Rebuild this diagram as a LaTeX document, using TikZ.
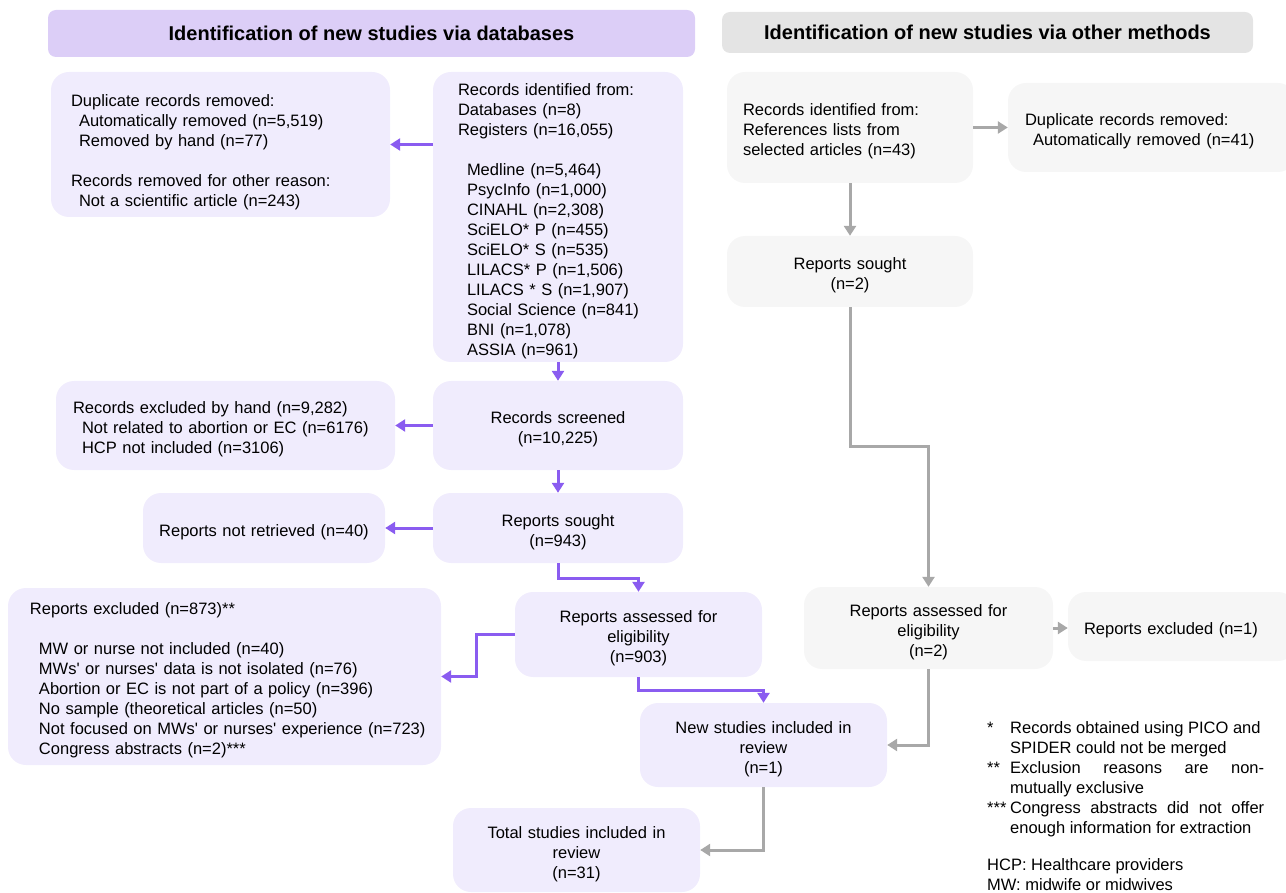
\documentclass[tikz,border=0pt]{standalone}
\usepackage{fontspec}
\setmainfont{Liberation Sans}
\usetikzlibrary{arrows.meta,calc}

\definecolor{hdrlav}{RGB}{220,206,247}
\definecolor{hdrgray}{RGB}{228,228,228}
\definecolor{boxlav}{RGB}{240,236,253}
\definecolor{boxgray}{RGB}{246,246,246}
\definecolor{arrpurple}{RGB}{138,92,240}
\definecolor{arrgray}{RGB}{168,168,168}

\tikzset{
  box/.style={
    fill=boxlav,
    rounded corners=18pt,
    inner sep=0pt,
    align=center,
    font=\fontsize{16.5}{20}\selectfont,
    tdown=19.5
  },
  graybox/.style={box, fill=boxgray},
  hdr/.style={
    fill=hdrlav,
    rounded corners=8pt,
    inner sep=0pt,
    font=\fontsize{20}{24}\selectfont\bfseries
  },
  tdown/.style={execute at begin node={\rule{0pt}{#1pt}}},
  wh/.style 2 args={minimum width=#1pt, minimum height=#2pt, text width=#1pt},
  lft/.style 2 args={align=left, inner xsep=#1pt, text width=#2pt},
  parrow/.style={
    draw=arrpurple,
    line width=3pt,
    -{Triangle[length=10pt,width=12pt]}
  },
  garrow/.style={parrow, draw=arrgray},
  notes/.style={inner sep=0pt, font=\fontsize{16.5}{20}\selectfont}
}

\begin{document}
\begin{tikzpicture}[x=1pt,y=-1pt]

    % frame
    \useasboundingbox (0,0) rectangle (1286,893);

    % headers
    \node[hdr, minimum width=647pt, minimum height=47pt] (hdrdb) at (371.5,33.5)
        {Identification of new studies via databases};
    \node[hdr, fill=hdrgray, minimum width=531pt, minimum height=41pt] (hdrother) at (987.5,32.5)
        {Identification of new studies via other methods};

    % databases column
    \node[box, wh={250}{290}, lft={25}{200}] (iddb) at (558,217)
        {Records identified from:\\
         Databases (n=8)\\
         Registers (n=16,055)\\[20pt]
         \hspace*{9pt}Medline (n=5,464)\\
         \hspace*{9pt}PsycInfo (n=1,000)\\
         \hspace*{9pt}CINAHL (n=2,308)\\
         \hspace*{9pt}SciELO* P (n=455)\\
         \hspace*{9pt}SciELO* S (n=535)\\
         \hspace*{9pt}LILACS* P (n=1,506)\\
         \hspace*{9pt}LILACS * S (n=1,907)\\
         \hspace*{9pt}Social Science (n=841)\\
         \hspace*{9pt}BNI (n=1,078)\\
         \hspace*{9pt}ASSIA (n=961)};
    \node[box, tdown=28, wh={339}{145}, lft={20}{299}] (dupdb) at (220.5,144.5)
        {Duplicate records removed:\\
         \hspace*{8pt}Automatically removed (n=5,519)\\
         \hspace*{8pt}Removed by hand (n=77)\\[20pt]
         Records removed for other reason:\\
         \hspace*{8pt}Not a scientific article (n=243)};
    \node[box, wh={250}{89}] (screen) at (558,425.5)
        {Records screened\\(n=10,225)};
    \node[box, wh={339}{89}, lft={17}{305}] (exclhand) at (225.5,425.5)
        {Records excluded by hand (n=9,282)\\
         \hspace*{9pt}Not related to abortion or EC (n=6176)\\
         \hspace*{9pt}HCP not included (n=3106)};
    \node[box, wh={250}{70}] (soughtdb) at (558,528)
        {Reports sought\\(n=943)};
    \node[box, wh={242}{70}] (notret) at (264,528)
        {Reports not retrieved (n=40)};
    \node[box, wh={247}{85}] (assessdb) at (638.5,634.5)
        {Reports assessed for\\eligibility\\(n=903)};
    \node[box, wh={433}{177}, lft={22}{389}] (excldb) at (224.5,676.5)
        {Reports excluded (n=873)**\\[20pt]
         \hspace*{9pt}MW or nurse not included (n=40)\\
         \hspace*{9pt}MWs\textquotesingle{} or nurses\textquotesingle{} data is not isolated (n=76)\\
         \hspace*{9pt}Abortion or EC is not part of a policy (n=396)\\
         \hspace*{9pt}No sample (theoretical articles (n=50)\\
         \hspace*{9pt}\mbox{Not focused on MWs\textquotesingle{} or nurses\textquotesingle{} experience (n=723)}\\
         \hspace*{9pt}Congress abstracts (n=2)***};
    \node[box, wh={247}{84}] (newinc) at (763.5,745)
        {New studies included in\\review\\(n=1)};
    \node[box, wh={247}{84}] (total) at (576.5,850)
        {Total studies included in\\review\\(n=31)};

    % other methods column
    \node[graybox, wh={246}{111}, lft={16}{214}] (idother) at (850,127.5)
        {Records identified from:\\
         References lists from\\
         selected articles (n=43)};
    \node[graybox, wh={288}{89}, lft={17}{254}] (dupother) at (1152,127.5)
        {Duplicate records removed:\\
         \hspace*{8pt}Automatically removed (n=41)};
    \node[graybox, wh={246}{71}] (soughtother) at (850,271.5)
        {Reports sought\\(n=2)};
    \node[graybox, wh={249}{82}] (assessother) at (928.5,628)
        {Reports assessed for\\eligibility\\(n=2)};
    \node[graybox, wh={228}{69}, lft={16}{196}] (exclother) at (1182,626.5)
        {Reports excluded (n=1)};

    % purple arrows
    \draw[parrow] (iddb.west |- dupdb.east) -- (dupdb.east);
    \draw[parrow] (iddb.south) -- (screen.north);
    \draw[parrow] (screen.west) -- (exclhand.east);
    \draw[parrow] (screen.south) -- (soughtdb.north);
    \draw[parrow] (soughtdb.west) -- (notret.east);
    \draw[parrow] (soughtdb.south) -- ++(0,15) -| (assessdb.north);
    \draw[parrow] (assessdb.west) -- ++(-38,0) |- (excldb.east);
    \draw[parrow] (assessdb.south) -- ++(0,13) -| (newinc.north);

    % gray arrows
    \draw[garrow] (idother.east) -- (idother.east -| dupother.west);
    \draw[garrow] (idother.south) -- (soughtother.north);
    \draw[garrow] (soughtother.south) -- ++(0,139) -| (assessother.north);
    \draw[garrow] (assessother.east) -- (assessother.east -| exclother.west);
    \draw[garrow] (assessother.south) |- (newinc.east);
    \draw[garrow] (newinc.south) |- (total.east);

    % footnotes
    \node[notes, anchor=north west] (footnotes) at (987,719) {%
        \begin{tabular}{@{}p{23pt}@{}l@{}}
        {*}   & Records obtained using PICO and\\
              & SPIDER could not be merged\\
        {**}  & \makebox[254pt][s]{Exclusion reasons are non-}\\
              & mutually exclusive\\
        {***} & \makebox[254pt][s]{Congress abstracts did not offer}\\
              & enough information for extraction\\[17pt]
        \multicolumn{2}{@{}l@{}}{HCP: Healthcare providers}\\
        \multicolumn{2}{@{}l@{}}{MW: midwife or midwives}
        \end{tabular}};

\end{tikzpicture}
\end{document}
